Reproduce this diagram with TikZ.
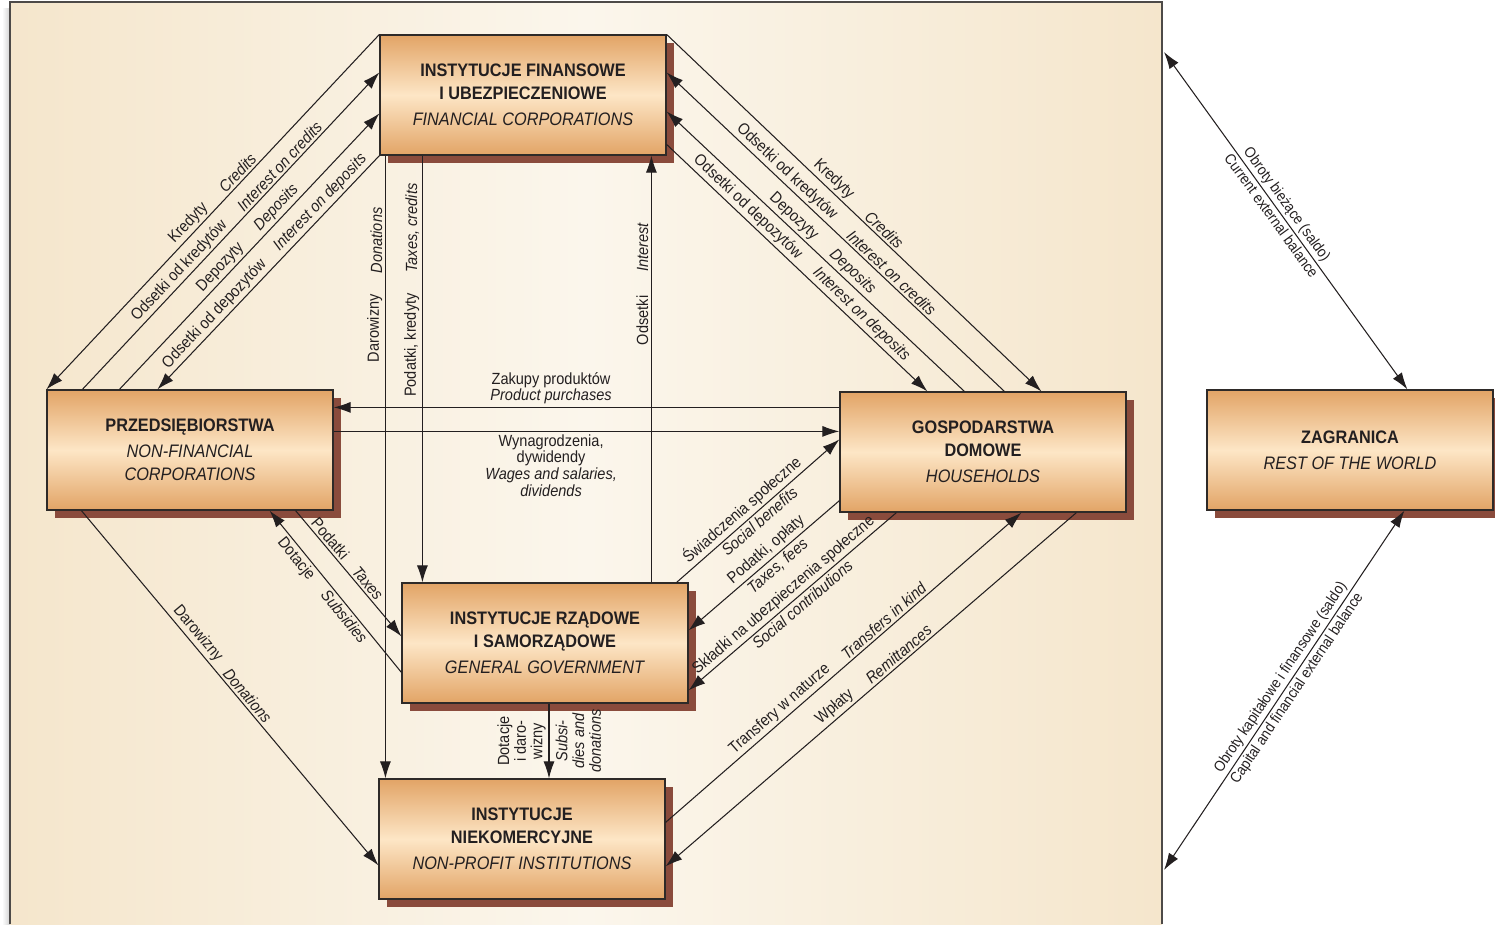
\documentclass[tikz,border=0pt]{standalone}
\usepackage{fontspec}
\setmainfont{Liberation Sans}[FakeStretch=0.9]
\usetikzlibrary{arrows.meta,calc,shadows}

\definecolor{boxtop}{HTML}{E2A466}
\definecolor{boxmid}{HTML}{FDE6C6}
\definecolor{boxshadow}{HTML}{8A4B3C}
\definecolor{boxline}{HTML}{2E2A28}
\definecolor{panelside}{HTML}{F5E6CC}
\definecolor{panelmid}{HTML}{FBF6EC}
\definecolor{ink}{HTML}{231F20}

\newcommand{\titlesize}{\fontsize{10.3}{13}\selectfont}
\newcommand{\lblsize}{\fontsize{9.2}{9.5}\selectfont}
\newcommand{\extsize}{\fontsize{8.6}{9.5}\selectfont}

\tikzset{
  sector/.style={rectangle, draw=boxline, line width=0.7pt, text=ink,
    minimum width=5.72cm, minimum height=2.4cm, align=center,
    top color=boxtop, bottom color=boxtop, middle color=boxmid,
    general shadow={fill=boxshadow, shadow xshift=1.6mm, shadow yshift=-1.6mm},
    font=\titlesize},
  plbl/.style={sloped, inner sep=1.3pt, text=ink, font=\lblsize},
  enlbl/.style={plbl, font=\lblsize\itshape},
  vpl/.style={rotate=90, anchor=south, inner sep=1.5pt, text=ink, font=\lblsize},
  ven/.style={vpl, font=\lblsize\itshape},
  hlbl/.style={inner sep=1.5pt, text=ink, font=\lblsize, align=center},
  flow/.style={->, line width=0.6pt, draw=ink},
  both/.style={<->, line width=0.6pt, draw=ink}
}

\begin{document}
\begin{tikzpicture}[x=0.02cm, y=-0.02cm, >={Latex[length=3.4mm,width=2.2mm]}]
\useasboundingbox (0,0) rectangle (1495,924);

% Background
\shade[left color=white, right color=black!18] (2,8) rectangle (10,924);
\shade[left color=panelside, right color=panelside, middle color=panelmid] (10,2) rectangle (1162,924);
\draw[line width=0.8pt, draw=boxline!85] (10,924) -- (10,2) -- (1162,2) -- (1162,924);

% Sectors
\node[sector] (fin) at (523,95) {\textbf{INSTYTUCJE FINANSOWE}\\\textbf{I UBEZPIECZENIOWE}\\[2pt]\textit{FINANCIAL CORPORATIONS}};
\node[sector] (nfc) at (190,450) {\textbf{PRZEDSIĘBIORSTWA}\\[2pt]\textit{NON-FINANCIAL}\\\textit{CORPORATIONS}};
\node[sector] (hh) at (983,452) {\textbf{GOSPODARSTWA}\\\textbf{DOMOWE}\\[2pt]\textit{HOUSEHOLDS}};
\node[sector] (gov) at (545,643) {\textbf{INSTYTUCJE RZĄDOWE}\\\textbf{I SAMORZĄDOWE}\\[2pt]\textit{GENERAL GOVERNMENT}};
\node[sector] (npi) at (522,839) {\textbf{INSTYTUCJE}\\\textbf{NIEKOMERCYJNE}\\[2pt]\textit{NON-PROFIT INSTITUTIONS}};
\node[sector] (row) at (1350,450) {\textbf{ZAGRANICA}\\[2pt]\textit{REST OF THE WORLD}};
\coordinate (cur) at (1164,52);
\coordinate (cap) at (1164,870);

% Financial corporations - non-financial corporations
\draw[flow] (fin.north west) -- (nfc.north west)
  node[plbl, pos=0.551, above] {Kredyty} node[enlbl, pos=0.407, above] {Credits};
\draw[flow] ($(nfc.north west)+(36,0)$) -- ($(fin.north west)+(0,38)$)
  node[plbl, pos=0.352, above] {Odsetki od kredytów} node[enlbl, pos=0.685, above] {Interest on credits};
\draw[flow] ($(nfc.north west)+(73,0)$) -- ($(fin.north west)+(0,79)$)
  node[plbl, pos=0.417, above] {Depozyty} node[enlbl, pos=0.633, above] {Deposits};
\draw[flow] (fin.south west) -- ($(nfc.north west)+(111,0)$)
  node[plbl, pos=0.709, above] {Odsetki od depozytów} node[enlbl, pos=0.232, above] {Interest on deposits};

% Financial corporations - households
\draw[flow] (fin.north east) -- ($(hh.north west)+(202,0)$)
  node[plbl, pos=0.427, above] {Kredyty} node[enlbl, pos=0.565, above] {Credits};
\draw[flow] ($(hh.north west)+(165,0)$) -- ($(fin.north east)+(0,38)$)
  node[plbl, pos=0.665, above] {Odsetki od kredytów} node[enlbl, pos=0.352, above] {Interest on credits};
\draw[flow] ($(hh.north west)+(125,0)$) -- ($(fin.north east)+(0,77)$)
  node[plbl, pos=0.597, above] {Depozyty} node[enlbl, pos=0.4, above] {Deposits};
\draw[flow] ($(fin.north east)+(0,110)$) -- ($(hh.north west)+(88,0)$)
  node[plbl, pos=0.284, above] {Odsetki od depozytów} node[enlbl, pos=0.719, above] {Interest on deposits};

% Verticals
\draw[flow] ($(fin.south west)+(6,0)$) -- ($(npi.north west)+(7,0)$)
  node[vpl, pos=0.277] {Darowizny} node[ven, pos=0.136] {Donations};
\draw[flow] ($(fin.south west)+(43,0)$) -- ($(gov.north west)+(21,0)$)
  node[vpl, pos=0.444] {Podatki, kredyty} node[ven, pos=0.17] {Taxes, credits};
\draw[flow] ($(gov.north west)+(250,0)$) -- ($(fin.south west)+(272,0)$)
  node[vpl, pos=0.614] {Odsetki} node[ven, pos=0.785] {Interest};
\draw[flow] ($(gov.south)+(4,0)$) -- ($(npi.north)+(27,0)$)
  node[vpl, pos=0.5, align=center] {Dotacje\\i daro-\\wizny}
  node[ven, pos=0.5, anchor=north, inner sep=3.5pt, align=center] {Subsi-\\dies and\\donations};

% Non-financial corporations - households
\draw[flow] ($(hh.north west)+(0,16)$) -- ($(nfc.north east)+(0,18)$)
  node[hlbl, pos=0.57, above] {Zakupy produktów\\\textit{Product purchases}};
\draw[flow] ($(nfc.north east)+(0,42)$) -- ($(hh.north west)+(0,40)$)
  node[hlbl, pos=0.43, below] {Wynagrodzenia,\\dywidendy\\\textit{Wages and salaries,}\\\textit{dividends}};

% Non-financial corporations - government, non-profit
\draw[flow] ($(nfc.south east)+(-38,0)$) -- ($(gov.north west)+(0,54)$)
  node[plbl, pos=0.266, above] {Podatki} node[enlbl, pos=0.62, above] {Taxes};
\draw[flow] ($(gov.north west)+(0,90)$) -- ($(nfc.south east)+(-64,0)$)
  node[plbl, pos=0.74, below] {Dotacje} node[enlbl, pos=0.38, below] {Subsidies};
\draw[flow] ($(nfc.south west)+(35,0)$) -- ($(npi.north west)+(0,87)$)
  node[plbl, pos=0.365, above] {Darowizny} node[enlbl, pos=0.537, above] {Donations};

% Households - government
\draw[flow] ($(gov.north east)+(-12,0)$) -- ($(hh.north west)+(0,48)$)
  node[plbl, pos=0.448, above] {Świadczenia społeczne} node[enlbl, pos=0.473, below] {Social benefits};
\draw[flow] ($(hh.south west)+(0,-12)$) -- ($(gov.north east)+(0,48)$)
  node[plbl, pos=0.44, above] {Podatki, opłaty} node[enlbl, pos=0.45, below] {Taxes, fees};
\draw[flow] ($(hh.south west)+(57,0)$) -- ($(gov.north east)+(0,108)$)
  node[plbl, pos=0.51, above] {Składki na ubezpieczenia społeczne} node[enlbl, pos=0.48, below] {Social contributions};

% Households - non-profit
\draw[flow] ($(npi.north east)+(0,44)$) -- ($(hh.south west)+(182,0)$)
  node[plbl, pos=0.34, above] {Transfery w naturze} node[enlbl, pos=0.629, above] {Transfers in kind};
\draw[flow] ($(hh.south west)+(237,0)$) -- ($(npi.north east)+(0,88)$)
  node[plbl, pos=0.572, above] {Wpłaty} node[enlbl, pos=0.419, above] {Remittances};

% Rest of the world
\draw[both] (cur) -- ($(row.north west)+(201,0)$)
  node[plbl, font=\extsize, pos=0.47, above] {Obroty bieżące (saldo)}
  node[plbl, font=\extsize, pos=0.47, below] {Current external balance};
\draw[both] ($(row.south west)+(198,0)$) -- (cap)
  node[plbl, font=\extsize, pos=0.48, above] {Obroty kapitałowe i finansowe (saldo)}
  node[plbl, font=\extsize, pos=0.48, below] {Capital and financial external balance};
\end{tikzpicture}
\end{document}
